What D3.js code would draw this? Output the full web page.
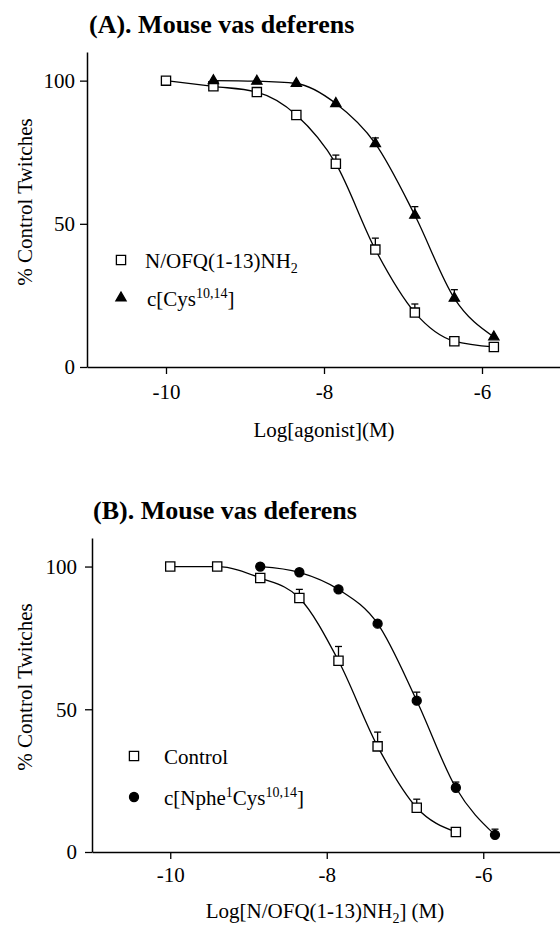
<!DOCTYPE html>
<html>
<head>
<meta charset="utf-8">
<script src="https://cdn.jsdelivr.net/npm/d3@7"></script>
<style>
  body { margin: 0; background: #fff; }
  svg { display: block; font-family: "Liberation Serif", "Times New Roman", serif; }
</style>
</head>
<body>
<div id="chart"></div>
<script>
// log concentrations (M) used in both panels
const logConc = [-10, -9.4, -8.85, -8.35, -7.85, -7.35, -6.85, -6.35, -5.85];

// Panel A: N/OFQ(1-13)NH2 (open squares)
const aRefX = logConc;
const aRefY = [100, 98, 96, 88, 71, 41, 19, 9, 7];
const aRefErr = [0, 0, 0, 0, 3, 4, 3, 1, 0];

// Panel A: c[Cys10,14] (filled triangles)
const aCysX = logConc.slice(1);
const aCysY = [100, 99.8, 99, 92, 78, 53, 24, 10.5];
const aCysErr = [0, 0, 0, 0, 2, 3, 3, 0];

// Panel B: control (open squares)
const bCtlX = logConc.slice(0, 8);
const bCtlY = [100, 100, 96, 89, 67, 37, 15.5, 7];
const bCtlErr = [0, 0, 0, 3, 5, 5, 3, 1];

// Panel B: c[Nphe1Cys10,14] (filled circles)
const bNpheX = logConc.slice(2);
const bNpheY = [100, 98, 92, 80, 53, 22.5, 6];
const bNpheErr = [0, 0, 0, 0, 3, 2, 2];

const xTicks = [-10, -8, -6];
const yTicks = [0, 50, 100];

const toPoints = (xs, ys, es) => xs.map((x, i) => ({ x, y: ys[i], e: es[i] }));

const svg = d3.select("#chart").append("svg")
  .attr("width", 560)
  .attr("height", 926);

// text parts: [string, "sup" | "sub" | undefined]; returns to baseline after sup/sub
function addParts(textSel, parts) {
  let shift = 0;
  parts.forEach(([str, kind]) => {
    const t = textSel.append("tspan").text(str);
    let dy = shift;
    if (kind === "sup") { t.attr("font-size", 14); dy -= 8; shift = 8; }
    else if (kind === "sub") { t.attr("font-size", 14); dy += 5; shift = -5; }
    else shift = 0;
    if (dy !== 0) t.attr("dy", dy);
  });
}

function drawPanel(cfg) {
  const g = svg.append("g");

  const x = d3.scaleLinear().domain([-11, -5]).range(cfg.xRange);
  const y = d3.scaleLinear().domain([0, 110]).range(cfg.yRange);

  // title
  g.append("text")
    .attr("x", cfg.title.x)
    .attr("y", cfg.title.y)
    .attr("font-size", 26)
    .attr("font-weight", "bold")
    .text(cfg.title.text);

  // axes
  const xAxis = g.append("g")
    .attr("transform", `translate(0,${cfg.yRange[0]})`)
    .call(d3.axisBottom(x).tickValues(xTicks).tickSize(7).tickSizeOuter(0)
      .tickPadding(cfg.xPad).tickFormat(d => String(d)));

  const yAxis = g.append("g")
    .attr("transform", `translate(${cfg.xRange[0]},0)`)
    .call(d3.axisLeft(y).tickValues(yTicks).tickSize(7).tickSizeOuter(0)
      .tickPadding(cfg.yPad).tickFormat(d => String(d)));

  [xAxis, yAxis].forEach(a => {
    a.attr("font-family", null).attr("font-size", null);
    a.select(".domain").attr("stroke", "#000").attr("stroke-width", 1.5);
    a.selectAll(".tick line").attr("stroke", "#000").attr("stroke-width", 1.3);
    a.selectAll(".tick text").attr("font-size", 21).attr("fill", "#000");
  });

  // axis labels
  g.append("text")
    .attr("transform", `translate(32,${cfg.yLabelY}) rotate(-90)`)
    .attr("text-anchor", "middle")
    .attr("font-size", 21)
    .text("% Control Twitches");

  const xl = g.append("text")
    .attr("x", cfg.xLabel.x)
    .attr("y", cfg.xLabel.y)
    .attr("text-anchor", "middle")
    .attr("font-size", 21);
  addParts(xl, cfg.xLabel.parts);

  const line = d3.line()
    .x(d => x(d.x))
    .y(d => y(d.y))
    .curve(d3.curveMonotoneX);

  cfg.series.forEach(s => {
    const pts = toPoints(s.xs, s.ys, s.es);

    g.append("path")
      .datum(pts)
      .attr("fill", "none")
      .attr("stroke", "#000")
      .attr("stroke-width", 1.3)
      .attr("d", line);

    // upward error bars (SEM)
    const eb = g.append("g").selectAll("g")
      .data(pts.filter(d => d.e > 0))
      .join("g")
      .attr("stroke", "#000")
      .attr("stroke-width", 1.3);
    eb.append("line")
      .attr("x1", d => x(d.x)).attr("x2", d => x(d.x))
      .attr("y1", d => y(d.y)).attr("y2", d => y(d.y + d.e));
    eb.append("line")
      .attr("x1", d => x(d.x) - 3.5).attr("x2", d => x(d.x) + 3.5)
      .attr("y1", d => y(d.y + d.e)).attr("y2", d => y(d.y + d.e));

    g.append("g").selectAll("path")
      .data(pts)
      .join("path")
      .attr("transform", d => `translate(${x(d.x)},${y(d.y)})`)
      .attr("d", d3.symbol(s.symbol, s.size))
      .attr("fill", s.fill)
      .attr("stroke", "#000")
      .attr("stroke-width", 1.3);

    // legend entry
    g.append("path")
      .attr("transform", `translate(${s.legend.mx},${s.legend.my})`)
      .attr("d", d3.symbol(s.symbol, s.size))
      .attr("fill", s.fill)
      .attr("stroke", "#000")
      .attr("stroke-width", 1.3);
    const lt = g.append("text")
      .attr("x", s.legend.tx)
      .attr("y", s.legend.my + 8)
      .attr("font-size", 21);
    addParts(lt, s.legend.parts);
  });
}

drawPanel({
  xRange: [87, 561],
  yRange: [367, 52],
  xPad: 10,
  yPad: 5,
  yLabelY: 202,
  title: { x: 89, y: 33, text: "(A). Mouse vas deferens" },
  xLabel: { x: 324, y: 437, parts: [["Log[agonist](M)"]] },
  series: [
    {
      xs: aRefX, ys: aRefY, es: aRefErr,
      symbol: d3.symbolSquare, size: 85, fill: "#fff",
      legend: { mx: 121, my: 260, tx: 145, parts: [["N/OFQ(1-13)NH"], ["2", "sub"]] }
    },
    {
      xs: aCysX, ys: aCysY, es: aCysErr,
      symbol: d3.symbolTriangle, size: 45, fill: "#000",
      legend: { mx: 121, my: 298, tx: 147, parts: [["c[Cys"], ["10,14", "sup"], ["]"]] }
    }
  ]
});

drawPanel({
  xRange: [92, 561.5],
  yRange: [852, 538],
  xPad: 8,
  yPad: 8,
  yLabelY: 687,
  title: { x: 93, y: 519, text: "(B). Mouse vas deferens" },
  xLabel: { x: 325, y: 918, parts: [["Log[N/OFQ(1-13)NH"], ["2", "sub"], ["] (M)"]] },
  series: [
    {
      xs: bCtlX, ys: bCtlY, es: bCtlErr,
      symbol: d3.symbolSquare, size: 85, fill: "#fff",
      legend: { mx: 134, my: 756, tx: 164, parts: [["Control"]] }
    },
    {
      xs: bNpheX, ys: bNpheY, es: bNpheErr,
      symbol: d3.symbolCircle, size: 64, fill: "#000",
      legend: { mx: 134, my: 797, tx: 164, parts: [["c[Nphe"], ["1", "sup"], ["Cys"], ["10,14", "sup"], ["]"]] }
    }
  ]
});
</script>
</body>
</html>
